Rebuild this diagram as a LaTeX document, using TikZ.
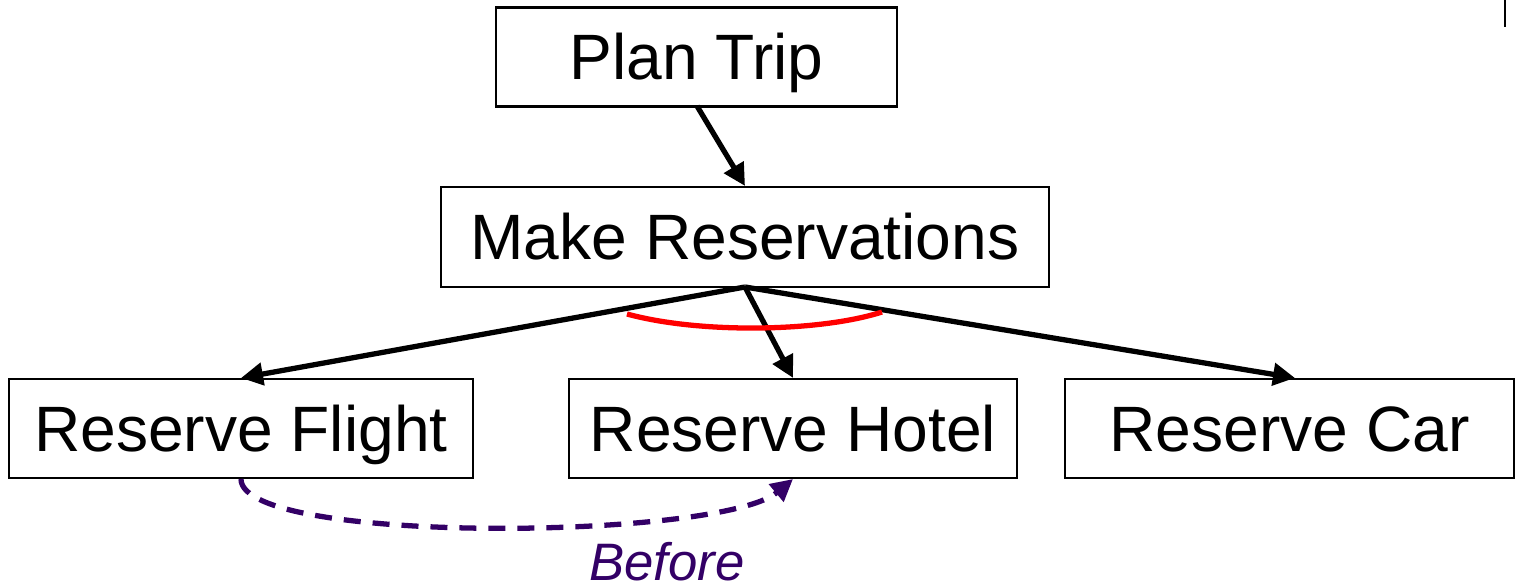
\documentclass[tikz,border=0pt]{standalone}
\usepackage{fontspec}
\setmainfont{Liberation Sans}
\usetikzlibrary{arrows.meta}
\definecolor{beforecol}{RGB}{51,0,102}
\tikzset{
	task/.style={draw,black,line width=1.2pt,inner sep=0pt,minimum height=1.98cm,
		font=\fontsize{36.5}{40}\selectfont,text height=26pt,text depth=0pt},
	link/.style={line width=3pt,-{Triangle[length=0.44cm,width=0.44cm]}},
}

\begin{document}
\begin{tikzpicture}[x=0.02cm,y=-0.02cm]
	\useasboundingbox (0,0) rectangle (1516,587);
	\draw[line width=1.2pt] (1505,0) -- (1505,27);
	\node[task,minimum width=8.02cm] (plan) at (696.5,57) {Plan Trip};
	\node[task,minimum width=12.16cm,minimum height=2cm] (make) at (745,237) {Make Reservations};
	\node[task,minimum width=9.28cm] (flight) at (241,428.5) {Reserve Flight};
	\node[task,minimum width=8.96cm] (hotel) at (793,428.5) {Reserve Hotel};
	\node[task,minimum width=8.98cm] (car) at (1289.5,428.5) {Reserve Car};
	\coordinate (planbot) at (697,106);
	\coordinate (makebot) at (745,287);
	\draw[link] (planbot) -- (make.north);
	\draw[link] (makebot) -- (flight.north);
	\draw[link] (makebot) -- (hotel.north);
	\draw[link] (makebot) -- (car.north -| 1295,0);
	% and-arc
	\draw[red,line width=3pt] (627,314) .. controls (700,334) and (820,332) .. (882,312);
	% ordering
	\draw[beforecol,line width=3pt,dash pattern=on 0.34cm off 0.24cm,-{Triangle[length=0.44cm,width=0.44cm]}]
		(flight.south) .. controls (241,545) and (720,540) .. (hotel.south);
	\node[beforecol,inner sep=0pt,font=\fontsize{30}{34}\selectfont\itshape] (before) at (667,562) {Before};
\end{tikzpicture}
\end{document}
